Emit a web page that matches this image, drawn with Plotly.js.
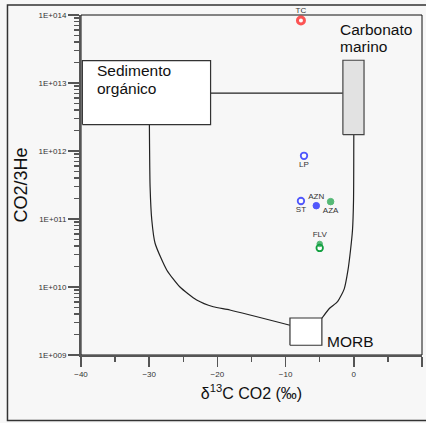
<!DOCTYPE html>
<html>
<head>
<meta charset="utf-8">
<script src="https://cdn.plot.ly/plotly-3.0.1.min.js"></script>
<style>
  html, body { margin: 0; padding: 0; background: #f7f7f7; }
  #chart { width: 426px; height: 423px; }
</style>
</head>
<body>
<div id="chart"></div>
<script>
// Gas samples: carbon isotope of CO2 (per mil) vs CO2/3He ratio
const sampleNames = ['TC', 'LP', 'ST', 'AZN', 'AZA', 'FLV'];
const d13C = [-7.75, -7.3, -7.75, -5.5, -3.4, -5.0];
const co2He = [8.3e13, 8.5e11, 1.84e11, 1.57e11, 1.8e11, 4.3e10];
// Second FLV measurement (unlabelled)
const flvRepeatD13C = [-5.0];
const flvRepeatCO2He = [3.75e10];

// End-member fields
const sedimentX = [-39.8, -21.0];
const sedimentY = [2.45e12, 2.14e13];
const carbonateX = [-1.6, 1.5];
const carbonateY = [1.74e12, 2.16e13];
const morbX = [-9.36, -4.68];
const morbY = [1.39e9, 3.5e9];

// Mixing curves between the end-members
const linkX = [-21.0, -1.6];
const linkY = [7.1e12, 7.1e12];
const sedMorbX = [-29.97, -29.87, -29.62, -29.14, -27.43, -25.53, -23.04, -20.61, -18.17, -9.36];
const sedMorbY = [2.41e12, 2.99e11, 9.66e10, 4.4e10, 1.78e10, 1.01e10, 6.46e9, 5.13e9, 4.59e9, 2.74e9];
const carbMorbX = [0.0, -0.04, -0.19, -0.48, -0.85, -1.4, -2.38, -3.55, -4.68];
const carbMorbY = [1.74e12, 1.9e11, 6.9e10, 3.5e10, 1.78e10, 9.4e9, 6.1e9, 4.87e9, 3.47e9];

// Axis ticks
const xTickVals = [-40, -30, -20, -10, 0, 10];
const yTickVals = [1e9, 1e10, 1e11, 1e12, 1e13, 1e14];
const yTickText = ['1E+009', '1E+010', '1E+011', '1E+012', '1E+013', '1E+014'];

const BLUE = '#0a14ff';
const GREEN = '#12a040';
const RED = '#ff1010';
const markerStyle = {
  TC:  { fill: '#ffffff', line: RED,   width: 3,   size: 7 },
  LP:  { fill: '#ffffff', line: BLUE,  width: 1.8, size: 6.5 },
  ST:  { fill: '#ffffff', line: BLUE,  width: 1.8, size: 6.5 },
  AZN: { fill: BLUE,      line: BLUE,  width: 1,   size: 6.5 },
  AZA: { fill: GREEN,     line: GREEN, width: 1,   size: 6.5 },
  FLV: { fill: GREEN,     line: GREEN, width: 1,   size: 5.5 }
};
const labelPos = { TC: 'top center', LP: 'bottom center', ST: 'bottom center',
                   AZN: 'top center', AZA: 'bottom center', FLV: 'top center' };

function rectTrace(xs, ys, fill, line) {
  return {
    x: [xs[0], xs[1], xs[1], xs[0], xs[0]],
    y: [ys[0], ys[0], ys[1], ys[1], ys[0]],
    mode: 'lines', fill: 'toself', fillcolor: fill,
    line: { color: line, width: 1.2 },
    hoverinfo: 'skip', showlegend: false
  };
}
function curveTrace(xs, ys) {
  return { x: xs, y: ys, mode: 'lines', line: { color: '#222', width: 1.2, shape: 'spline', smoothing: 0.6 },
           hoverinfo: 'skip', showlegend: false };
}

const traces = [
  { x: linkX, y: linkY, mode: 'lines', line: { color: '#222', width: 1.2 }, hoverinfo: 'skip', showlegend: false },
  curveTrace(sedMorbX, sedMorbY),
  curveTrace(carbMorbX, carbMorbY),
  rectTrace(sedimentX, sedimentY, '#ffffff', '#333'),
  rectTrace(carbonateX, carbonateY, '#e2e2e2', '#444'),
  rectTrace(morbX, morbY, '#ffffff', '#333'),
  {
    x: flvRepeatD13C, y: flvRepeatCO2He, mode: 'markers',
    marker: { symbol: 'circle', size: 6.5, color: '#ffffff', line: { color: GREEN, width: 1.8 } },
    showlegend: false
  },
  {
    x: d13C, y: co2He, text: sampleNames, mode: 'markers+text', cliponaxis: false,
    textposition: sampleNames.map(n => labelPos[n]),
    textfont: { family: 'Liberation Sans, Arial, sans-serif', size: 8, color: '#333' },
    marker: {
      symbol: 'circle',
      size: sampleNames.map(n => markerStyle[n].size),
      color: sampleNames.map(n => markerStyle[n].fill),
      line: { color: sampleNames.map(n => markerStyle[n].line),
              width: sampleNames.map(n => markerStyle[n].width) }
    },
    showlegend: false
  }
];

const txt = { family: 'Liberation Sans, Arial, sans-serif', size: 15.5, color: '#111' };
function label(text, x, y) {
  return { text: text, x: x, y: Math.log10(y), xref: 'x', yref: 'y',
           xanchor: 'left', yanchor: 'middle', showarrow: false, font: txt };
}

const layout = {
  width: 426, height: 423,
  margin: { l: 80.7, r: 3.5, t: 15, b: 67.7 },
  paper_bgcolor: '#f7f7f7', plot_bgcolor: 'rgba(0,0,0,0)',
  showlegend: false,
  font: { family: 'Liberation Sans, Arial, sans-serif', color: '#333' },
  xaxis: {
    range: [-40, 10], tickvals: xTickVals, ticks: 'outside', ticklen: 10,
    tickcolor: '#555', tickwidth: 1.5,
    minor: { dtick: 5, ticks: 'outside', ticklen: 5, tickcolor: '#555', tickwidth: 1.5 },
    showline: true, linecolor: '#555', linewidth: 2,
    showgrid: false, zeroline: false,
    tickfont: { size: 8, color: '#333' },
    title: { text: 'δ<sup>13</sup>C CO2 (‰)', font: { size: 16, color: '#111' }, standoff: 10 }
  },
  yaxis: {
    type: 'log', range: [9, 14], tickvals: yTickVals, ticktext: yTickText,
    ticks: 'outside', ticklen: 11, tickcolor: '#555', tickwidth: 1.5,
    minor: { dtick: 'D1', ticks: 'outside', ticklen: 5, tickcolor: '#555', tickwidth: 1.5 },
    showline: true, linecolor: '#555', linewidth: 2,
    showgrid: false, zeroline: false,
    tickfont: { size: 8, color: '#333' },
    title: { text: 'CO2/3He', font: { size: 18, color: '#111' }, standoff: 6 }
  },
  shapes: [
    // plot frame (top and right edges)
    { type: 'rect', xref: 'paper', yref: 'paper', x0: 0, x1: 1, y0: 0, y1: 1,
      line: { color: '#111', width: 1 }, layer: 'below' },
    // outer border
    { type: 'rect', xref: 'paper', yref: 'paper', x0: -0.2156, x1: 1.02, y0: -0.193, y1: 1.0294,
      line: { color: '#333', width: 1.5 } }
  ],
  annotations: [
    label('Sedimento', -38.0, 1.55e13),
    label('orgánico', -38.0, 8.2e12),
    label('Carbonato', -2.3, 6.2e13),
    label('marino', -2.3, 3.4e13),
    label('MORB', -4.2, 1.6e9)
  ]
};

Plotly.newPlot('chart', traces, layout, { displayModeBar: false, staticPlot: true });
</script>
</body>
</html>
